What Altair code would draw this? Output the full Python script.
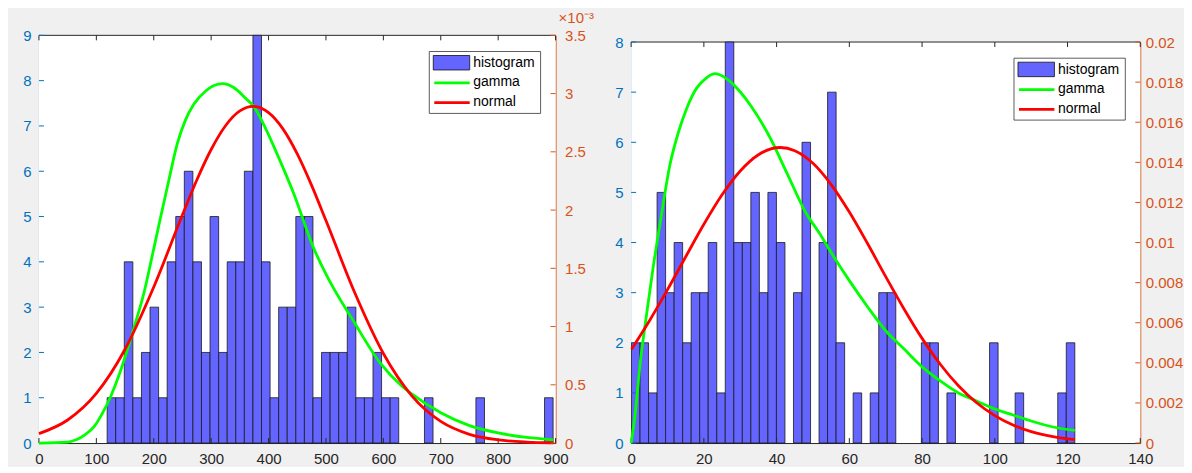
import altair as alt
import numpy as np
import pandas as pd

FONT = "Liberation Sans"
BLUE = "#0072BD"
ORANGE = "#D95319"
DARK = "#262626"
BAR_FILL = "#6464FF"
GREEN = "#00FF00"
RED = "#FF0000"

# ---------------- left panel data ----------------
left_x_ticks = [0, 100, 200, 300, 400, 500, 600, 700, 800, 900]
left_yl_ticks = [0, 1, 2, 3, 4, 5, 6, 7, 8, 9]
left_yr_ticks = [0, 0.5, 1, 1.5, 2, 2.5, 3, 3.5]          # x 10^-3
left_data_min, left_data_max = 118.8, 895.7
left_counts = [1, 1, 4, 1, 2, 3, 1, 4, 5, 6,
               4, 2, 5, 2, 4, 4, 6, 9, 4, 1,
               3, 3, 5, 5, 1, 2, 2, 2, 3, 1,
               1, 2, 1, 1, 0, 0, 0, 1, 0, 0,
               0, 0, 0, 1, 0, 0, 0, 0, 0, 0,
               0, 1]
left_gamma_x = [0, 50, 66, 80, 96, 110, 125, 140, 154, 168, 183, 197, 212, 226, 241,
                255, 270, 290, 305, 320, 340, 360, 374, 395, 415, 444, 478, 500, 550,
                594, 632, 650, 700, 750, 800, 850, 896]
left_gamma_y = [0, 0.008, 0.03, 0.07, 0.14, 0.25, 0.40, 0.59, 0.80, 1.03, 1.29, 1.60,
                1.94, 2.25, 2.57, 2.77, 2.91, 3.02, 3.07, 3.085, 3.05, 2.96, 2.89, 2.70,
                2.48, 2.14, 1.68, 1.45, 1.03, 0.69, 0.49, 0.42, 0.26, 0.15, 0.087,
                0.048, 0.028]
left_normal_x = [0, 50, 100, 150, 200, 250, 275, 300, 325, 350, 373, 400, 425, 450,
                 475, 500, 550, 600, 650, 700, 750, 800, 850, 896]
left_normal_y = [0.081, 0.198, 0.426, 0.805, 1.339, 1.959, 2.258, 2.52, 2.724, 2.851,
                 2.89, 2.836, 2.697, 2.482, 2.212, 1.91, 1.292, 0.769, 0.403, 0.186,
                 0.075, 0.027, 0.0084, 0.0025]

# ---------------- right panel data ----------------
right_x_ticks = [0, 20, 40, 60, 80, 100, 120, 140]
right_yl_ticks = [0, 1, 2, 3, 4, 5, 6, 7, 8]
right_yr_ticks = [0, 0.002, 0.004, 0.006, 0.008, 0.01, 0.012, 0.014, 0.016, 0.018, 0.02]
right_data_min, right_data_max = 0.1, 122.0
right_counts = [2, 2, 1, 5, 3, 4, 2, 3, 3, 4,
                1, 8, 4, 4, 5, 3, 5, 4, 0, 3,
                6, 0, 4, 7, 2, 0, 1, 0, 1, 3,
                3, 0, 0, 0, 2, 2, 0, 1, 0, 0,
                0, 0, 2, 0, 0, 1, 0, 0, 0, 0,
                1, 2]
right_gamma_x = [0, 1, 2.5, 4, 6, 8, 10.7, 13, 15.3, 18, 20, 23, 26, 28, 33, 38, 43, 48,
                 52, 55, 60, 65, 70, 75, 80, 85, 90, 95, 100, 105, 110, 116, 122]
right_gamma_y = [0, 0.0013, 0.0040, 0.0061, 0.0087, 0.0110, 0.0139, 0.0155, 0.0167,
                 0.0177, 0.0181, 0.01842, 0.0182, 0.0179, 0.0168, 0.0153, 0.0134,
                 0.0115, 0.0104, 0.0095, 0.0081, 0.0068, 0.0056, 0.0047, 0.0038,
                 0.0031, 0.0025, 0.0021, 0.0017, 0.0014, 0.0011, 0.0008, 0.00063]
right_normal_x = [0.1, 5, 10, 15, 20, 25, 30, 35, 41, 45, 50, 55, 60, 65, 70, 75, 80, 85,
                  90, 95, 100, 105, 110, 116, 122]
right_normal_y = [0.00468, 0.00609, 0.00765, 0.00929, 0.01091, 0.01238, 0.01357,
                  0.01438, 0.01474, 0.01458, 0.01395, 0.01289, 0.01152, 0.00995,
                  0.00830, 0.0067, 0.00522, 0.00393, 0.00286, 0.00201, 0.00137,
                  0.0009, 0.00057, 0.00032, 0.00017]

legend_labels = ["histogram", "gamma", "normal"]
dist_names = ["gamma", "normal"]


def make_panel(W, H, top, x_ticks, yl_ticks, yr_ticks, dmin, dmax, counts,
               gx, gy, nx, ny, bound_left, bound_top, bound_right,
               yl_pad, yr_pad, x_pad, exponent=None):
    n = len(counts)
    edges = np.linspace(dmin, dmax, n + 1)
    hist = pd.DataFrame({"lo": edges[:-1], "hi": edges[1:], "count": counts,
                         "zero": 0})
    hist = hist[hist["count"] > 0]
    curves = pd.concat([
        pd.DataFrame({"x": gx, "d": gy, "dist": "gamma"}),
        pd.DataFrame({"x": nx, "d": ny, "dist": "normal"}),
    ], ignore_index=True)

    xs = alt.Scale(domain=[x_ticks[0], x_ticks[-1]], nice=False, zero=False)
    yls = alt.Scale(domain=[yl_ticks[0], yl_ticks[-1]], range=[H, top], nice=False)
    yrs = alt.Scale(domain=[yr_ticks[0], yr_ticks[-1]], range=[H, top], nice=False)

    x_axis = alt.Axis(values=x_ticks, title=None, ticks=False, grid=False,
                      labelColor=DARK, domainColor=DARK, domainWidth=1,
                      labelFontSize=15, labelFont=FONT, labelPadding=x_pad,
                      labelFlush=False)
    yl_axis = alt.Axis(orient="left", values=yl_ticks, title=None, ticks=False,
                       grid=False, labelColor=BLUE, domainColor=BLUE,
                       domainWidth=1, labelFontSize=15, labelFont=FONT,
                       labelPadding=yl_pad, format="~g")
    yr_axis = alt.Axis(orient="right", values=yr_ticks, title=None, ticks=False,
                       grid=False, labelColor=ORANGE, domainColor=ORANGE,
                       domainWidth=1, labelFontSize=15, labelFont=FONT,
                       labelPadding=yr_pad, format="~g")

    one = pd.DataFrame({"k": [0]})

    plot_bg = alt.Chart(one).mark_rect(fill="white").encode(
        x=alt.value(0), x2=alt.value(W), y=alt.value(top), y2=alt.value(H))
    frame_top = alt.Chart(one).mark_rule(color=DARK, strokeWidth=1).encode(
        x=alt.value(0), x2=alt.value(W), y=alt.value(top))
    bars = alt.Chart(hist).mark_rect(fill=BAR_FILL, stroke="#1a1a1a",
                                     strokeWidth=0.8).encode(
        x=alt.X("lo:Q", scale=xs, axis=x_axis),
        x2="hi:Q",
        y=alt.Y("count:Q", scale=yls, axis=yl_axis),
        y2="zero:Q",
    )
    xt = pd.DataFrame({"t": x_ticks})
    xtick_bottom = alt.Chart(xt).mark_rule(color=DARK, strokeWidth=1).encode(
        x=alt.X("t:Q", scale=xs, axis=x_axis), y=alt.value(H), y2=alt.value(H - 5))
    xtick_top = alt.Chart(xt).mark_rule(color=DARK, strokeWidth=1).encode(
        x=alt.X("t:Q", scale=xs, axis=x_axis), y=alt.value(top),
        y2=alt.value(top + 5))
    ylt = pd.DataFrame({"t": yl_ticks})
    ytick_left = alt.Chart(ylt).mark_rule(color=BLUE, strokeWidth=1).encode(
        y=alt.Y("t:Q", scale=yls, axis=yl_axis), x=alt.value(0), x2=alt.value(5))
    # invisible rules that fix the panel's outer extent
    bnd_l = alt.Chart(one).mark_rule(opacity=0, strokeWidth=0.01).encode(
        x=alt.value(-bound_left), y=alt.value(-bound_top), y2=alt.value(H))
    bnd_r = alt.Chart(one).mark_rule(opacity=0, strokeWidth=0.01).encode(
        x=alt.value(W + bound_right), y=alt.value(-bound_top), y2=alt.value(H))
    layer_left = alt.layer(plot_bg, frame_top, bars, xtick_bottom, xtick_top,
                           ytick_left, bnd_l, bnd_r)

    lines = alt.Chart(curves).mark_line(strokeWidth=2.8, interpolate="monotone").encode(
        x=alt.X("x:Q", scale=xs, axis=x_axis),
        y=alt.Y("d:Q", scale=yrs, axis=yr_axis),
        color=alt.Color("dist:N", scale=alt.Scale(domain=dist_names,
                                                  range=[GREEN, RED]),
                        legend=None),
    )
    yrt = pd.DataFrame({"t": yr_ticks})
    ytick_right = alt.Chart(yrt).mark_rule(color=ORANGE, strokeWidth=1).encode(
        y=alt.Y("t:Q", scale=yrs, axis=yr_axis), x=alt.value(W), x2=alt.value(W - 5))

    # legend (drawn by hand, top right of the plot area)
    L = W - 126.5
    T = top + 16.2
    leg_box = alt.Chart(one).mark_rect(fill="white", stroke="#333333",
                                       strokeWidth=0.8).encode(
        x=alt.value(L), x2=alt.value(W - 15), y=alt.value(T), y2=alt.value(T + 62))
    leg_patch = alt.Chart(one).mark_rect(fill=BAR_FILL, stroke="#111111",
                                         strokeWidth=0.8).encode(
        x=alt.value(L + 4), x2=alt.value(L + 40.5), y=alt.value(T + 4),
        y2=alt.value(T + 18.5))
    leg_g = alt.Chart(one).mark_rule(color=GREEN, strokeWidth=2.8).encode(
        x=alt.value(L + 5), x2=alt.value(L + 40.5), y=alt.value(T + 31.5))
    leg_n = alt.Chart(one).mark_rule(color=RED, strokeWidth=2.8).encode(
        x=alt.value(L + 5), x2=alt.value(L + 40.5), y=alt.value(T + 51.3))
    leg_texts = []
    for lab, dy in zip(legend_labels, [11.5, 31.0, 50.8]):
        leg_texts.append(
            alt.Chart(one).mark_text(align="left", baseline="middle", fontSize=14,
                                     font=FONT, color="#000000").encode(
                x=alt.value(L + 44), y=alt.value(T + dy), text=alt.value(lab)))
    right_parts = [lines, ytick_right, leg_box, leg_patch, leg_g, leg_n] + leg_texts
    if exponent:
        right_parts.append(
            alt.Chart(one).mark_text(align="left", baseline="alphabetic", fontSize=15,
                                     font=FONT, color=ORANGE).encode(
                x=alt.value(W + 3), y=alt.value(top - 12.5), text=alt.value(exponent)))
    layer_right = alt.layer(*right_parts)

    return alt.layer(layer_left, layer_right).resolve_scale(
        y="independent").properties(
        width=W, height=H,
        view=alt.ViewBackground(fill="transparent", stroke="transparent"))


H_ALL = 408.4
left = make_panel(517.5, H_ALL, 0, left_x_ticks, left_yl_ticks, left_yr_ticks,
                  left_data_min, left_data_max, left_counts,
                  left_gamma_x, left_gamma_y, left_normal_x, left_normal_y,
                  bound_left=30.3, bound_top=26.3, bound_right=40,
                  yl_pad=8, yr_pad=9, x_pad=8, exponent="\u00d710\u207b\u00b3")
right = make_panel(510, H_ALL, 6.7, right_x_ticks, right_yl_ticks, right_yr_ticks,
                   right_data_min, right_data_max, right_counts,
                   right_gamma_x, right_gamma_y, right_normal_x, right_normal_y,
                   bound_left=20, bound_top=26.3, bound_right=0,
                   yl_pad=8, yr_pad=5, x_pad=8)

chart = alt.hconcat(left, right, spacing=14.2).properties(
    padding={"left": 0, "top": 0, "right": 0, "bottom": 0}
).configure(background="#F0F0F0", font=FONT)

chart.save("out.html", embed_options={"renderer": "svg", "actions": False})
